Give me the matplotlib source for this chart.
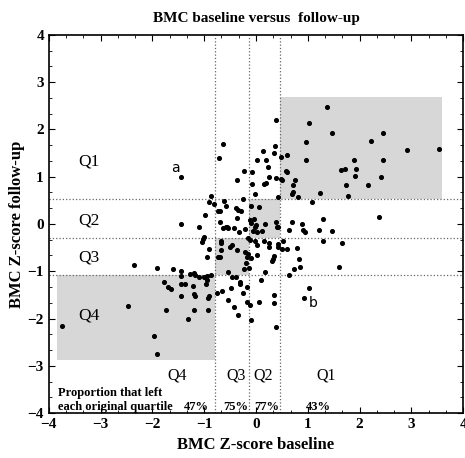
import matplotlib.pyplot as plt
from matplotlib.patches import Rectangle
from matplotlib.ticker import MultipleLocator

# baseline / follow-up BMC z-scores
x_base = [1.38, 1.02, 1.46, 2.45, 0.96, 2.23, 2.92, 3.53, 0.49, 0.60,
          0.96, 1.89, 2.45, 0.58, 0.60, 1.64, 1.71, 1.93, 1.92, 2.42,
          0.49, 0.50, 0.75, 0.72, 1.73, 2.16, 0.71, 0.69, 0.81, 1.24,
          1.77, 1.08, 2.37, 0.69, 1.29, 0.88, 0.64, 0.91, 0.95, 1.22,
          1.47, 0.52, 1.29, 1.66, 0.50, 0.59, 0.79, 0.84, 0.85, 0.73,
          0.64, 1.60, 1.02, 0.93,
          -0.63, -0.71, -1.45, -0.86, -0.90, -0.81, -0.62, -0.98, -0.73, -0.69,
          -1.45, -1.10, -0.70, -0.64, -0.55,
          0.37, 0.14, 0.35, 0.01, 0.19, 0.23, -0.24, -0.07, 0.25, 0.39,
          -0.36, -0.07, 0.16, 0.19, -0.01, 0.42, -0.26, -0.57, -0.39, -0.34,
          -0.29, -0.10, 0.06, -0.36, -0.12, -0.10, -0.03, 0.00, -0.02, 0.17,
          0.39, 0.41, -0.21, -0.57, 0.39,
          -1.00, -1.02, -1.04, -0.68, -0.68, -0.91, -0.94, -0.73, -0.70, -0.68,
          -1.92, -1.61, -1.44, -1.28, -1.19, -1.18, -1.10, -1.45, -1.00, -0.95,
          -0.87, -1.77, -1.69, -1.64, -1.44, -1.38, -1.21, -0.97, -0.95, -1.19,
          -1.18, -1.45, -0.91, -0.93, -0.76, -0.66, -1.73, -1.20, -0.92, -1.32,
          -0.54, -0.42, -0.33, -0.06, 0.01, 0.11, 0.43, -0.15, -0.12, -0.02,
          0.01, 0.15, 0.26, 0.26, 0.42, 0.43, -0.47, -0.50, -0.37, -0.21,
          -0.15, -0.18, -0.10, 0.01, -0.19, -0.23, -0.14, 0.35, 0.32, 0.30,
          -0.54, -0.47, -0.39, -0.30, -0.31, -0.17, 0.17, 0.10, -0.48, -0.25,
          -0.17, -0.12, -0.54, -0.42, -0.34, 0.06, 0.35, 0.35, -0.10, 0.39,
          -2.36, -2.48, -3.74, -1.97, -1.91]
y_follow = [2.47, 2.13, 1.93, 1.93, 1.73, 1.76, 1.56, 1.59, 1.42, 1.45,
            1.36, 1.36, 1.36, 1.11, 1.09, 1.14, 1.16, 1.16, 1.02, 0.99,
            0.96, 0.92, 0.94, 0.82, 0.82, 0.82, 0.68, 0.63, 0.57, 0.65,
            0.59, 0.46, 0.14, 0.05, 0.11, -0.01, -0.12, -0.12, -0.18, -0.13,
            -0.15, -0.36, -0.37, -0.40, -0.53, -0.54, -0.51, -0.74, -0.90, -0.96,
            -1.08, -0.90, -1.36, -1.56,
            1.69, 1.39, 0.99, 0.60, 0.46, 0.42, 0.48, 0.20, 0.28, 0.27,
            -0.01, -0.07, 0.05, -0.09, -0.06,
            1.65, 1.55, 1.50, 1.35, 1.35, 1.21, 1.13, 1.09, 1.00, 0.97,
            0.93, 0.84, 0.84, 0.86, 0.63, 0.57, 0.52, 0.37, 0.33, 0.30,
            0.28, 0.38, 0.35, 0.12, 0.08, 0.03, 0.10, -0.02, -0.07, -0.01,
            0.04, -0.06, -0.11, -0.07, 2.19,
            -0.27, -0.32, -0.39, -0.36, -0.41, -0.54, -0.70, -0.70, -0.70, -0.55,
            -0.94, -0.96, -0.99, -1.06, -1.03, -1.08, -1.13, -1.11, -1.13, -1.09,
            -1.08, -1.22, -1.33, -1.38, -1.26, -1.28, -1.31, -1.28, -1.19, -1.48,
            -1.52, -1.52, -1.52, -1.56, -1.47, -1.42, -1.81, -1.81, -1.81, -2.01,
            -0.09, -0.09, -0.18, -0.15, -0.18, -0.15, -0.06, -0.29, -0.34, -0.37,
            -0.44, -0.37, -0.41, -0.48, -0.43, -0.48, -0.44, -0.48, -0.55, -0.59,
            -0.64, -0.69, -0.73, -0.66, -0.83, -0.95, -0.94, -0.67, -0.75, -0.78,
            -1.01, -1.13, -1.13, -1.22, -1.28, -1.33, -1.01, -1.19, -1.36, -1.47,
            -1.66, -1.71, -1.61, -1.75, -1.93, -1.64, -1.50, -1.67, -2.03, -2.17,
            -0.87, -1.74, -2.16, -2.36, -2.75]

# quartile cut points (baseline on x, follow-up on y)
x_cuts = [-0.79, -0.135, 0.46]
y_cuts = [0.52, -0.30, -1.08]

# shaded "stayed" boxes: (x0, x1, y0, y1)
boxes = [(0.46, 3.59, 0.52, 2.68),
         (-0.135, 0.46, -0.30, 0.52),
         (-0.79, -0.135, -1.08, -0.30),
         (-3.84, -0.79, -2.88, -1.08)]

row_labels = ["Q1", "Q2", "Q3", "Q4"]
row_label_y = [1.33, 0.08, -0.70, -1.93]
col_labels = ["Q4", "Q3", "Q2", "Q1"]
col_label_x = [-1.53, -0.39, 0.14, 1.35]
left_pct = ["47%", "75%", "77%", "43%"]
pct_x = [-1.16, -0.39, 0.21, 1.20]

serif = "Liberation Serif"

fig = plt.figure(figsize=(4.65, 4.58), dpi=100)
ax = fig.add_axes([0.105, 0.098, 0.891, 0.826])

for x0, x1, y0, y1 in boxes:
    ax.add_patch(Rectangle((x0, y0), x1 - x0, y1 - y0, color="#d7d7d7", lw=0, zorder=1))

for xc in x_cuts:
    ax.axvline(xc, color="#666666", ls=":", lw=0.9, zorder=2)
for yc in y_cuts:
    ax.axhline(yc, color="#666666", ls=":", lw=0.9, zorder=2)

ax.scatter(x_base, y_follow, s=7, color="black", zorder=3)

for lab, yy in zip(row_labels, row_label_y):
    ax.text(-3.44, yy, lab, fontsize=12.5, family=serif, va="center", ha="left")
for lab, xx in zip(col_labels, col_label_x):
    ax.text(xx, -3.2, lab, fontsize=11.5, family=serif, va="center", ha="center")
for lab, xx in zip(left_pct, pct_x):
    ax.text(xx, -3.87, lab, fontsize=9, family=serif, weight="bold", va="center", ha="center")
ax.text(-3.83, -3.58, "Proportion that left", fontsize=9, family=serif, weight="bold", va="center")
ax.text(-3.83, -3.87, "each original quartile", fontsize=9, family=serif, weight="bold", va="center")

ax.text(-1.56, 1.18, "a", fontsize=10, va="center", ha="center")
ax.text(1.1, -1.67, "b", fontsize=10, va="center", ha="center")

ax.set_xlim(-4, 4)
ax.set_ylim(-4, 4)
ax.xaxis.set_major_locator(MultipleLocator(1))
ax.yaxis.set_major_locator(MultipleLocator(1))
ax.xaxis.set_minor_locator(MultipleLocator(1 / 3))
ax.yaxis.set_minor_locator(MultipleLocator(1 / 3))
ax.tick_params(which="both", direction="in", top=True, right=True)
ax.tick_params(which="major", length=4, width=0.8)
ax.tick_params(which="minor", length=2, width=0.6)
for lab in ax.get_xticklabels() + ax.get_yticklabels():
    lab.set_family(serif)
    lab.set_weight("bold")
    lab.set_fontsize(11)
for sp in ax.spines.values():
    sp.set_linewidth(1.2)

ax.set_xlabel("BMC Z-score baseline", family=serif, weight="bold", fontsize=12, labelpad=4)
ax.set_ylabel("BMC Z-score follow-up", family=serif, weight="bold", fontsize=12, labelpad=2)
ax.set_title("BMC baseline versus  follow-up", family=serif, weight="bold", fontsize=11, pad=9)

fig.savefig("out.png", dpi=100)
